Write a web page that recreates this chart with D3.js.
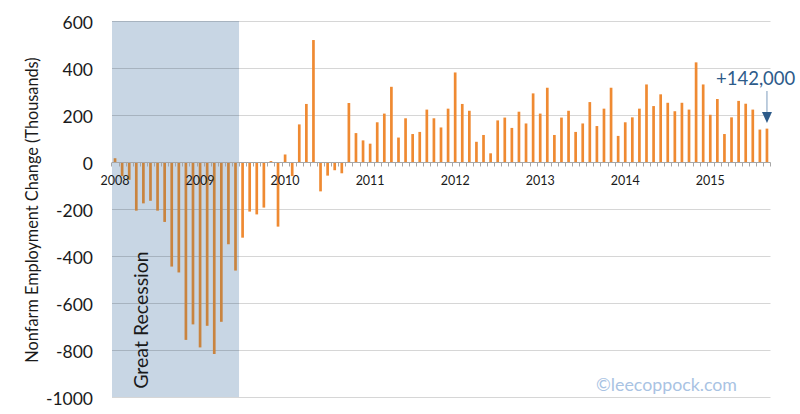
<!DOCTYPE html>
<html><head><meta charset="utf-8">
<script src="https://cdn.jsdelivr.net/npm/d3@7"></script>
<style>
body{margin:0;background:#fff}
svg{display:block}
text{font-family:Lato,"Open Sans",sans-serif}
</style>
</head><body>
<svg id="chart" width="800" height="414"></svg>
<script>
// ---- data (thousands of jobs, monthly change) ----
const yearLabels = ["2008","2009","2010","2011","2012","2013","2014","2015"];
const monthNames = ["Jan","Feb","Mar","Apr","May","Jun","Jul","Aug","Sep","Oct","Nov","Dec"];
const values2008 = [16, -60, -76, -207, -176, -165, -207, -255, -445, -470, -757, -691];
const values2009 = [-789, -697, -817, -680, -350, -462, -322, -211, -223, -194, 4, -275];
const values2010 = [32, -60, 160, 247, 519, -125, -58, -35, -48, 251, 123, 92];
const values2011 = [78, 169, 206, 320, 104, 186, 119, 128, 223, 186, 147, 227];
const values2012 = [381, 247, 218, 86, 115, 37, 177, 189, 145, 214, 164, 292];
const values2013 = [206, 316, 115, 189, 218, 128, 164, 255, 153, 227, 316, 111];
const values2014 = [169, 190, 227, 330, 238, 288, 252, 216, 252, 223, 424, 330];
const values2015 = [201, 268, 119, 190, 260, 248, 223, 138, 142];
const yTicks = [-1000, -800, -600, -400, -200, 0, 200, 400, 600];
const recessionStart = "Jan 2008";
const recessionEnd = "Jun 2009";
const annotationText = "+142,000";
const yTitle = "Nonfarm Employment Change (Thousands)";
const recessionLabel = "Great Recession";
const watermark = "\u00A9leecoppock.com";

const yearValues = [values2008, values2009, values2010, values2011, values2012, values2013, values2014, values2015];
const data = [];
yearValues.forEach((arr, yi) => arr.forEach((v, mi) => {
  data.push({key: monthNames[mi] + " " + yearLabels[yi], month: mi, year: yearLabels[yi], value: v});
}));

// ---- layout ----
const svg = d3.select("#chart");
const plotLeft = 111.5, plotRight = 770.5, plotTop = 21, plotBottom = 397;

const x = d3.scaleBand().domain(data.map(d => d.key)).range([plotLeft, plotRight]).paddingInner(0.62).paddingOuter(0.31);
const y = d3.scaleLinear().domain([-1000, 600]).range([plotBottom, plotTop]);

const keys = data.map(d => d.key);
const rs = keys.indexOf(recessionStart), re = keys.indexOf(recessionEnd);
const step = x.step();
const bandStart = k => x(k) - step * x.paddingInner() / 2;

// recession shading
const shadeX0 = plotLeft + 0.5;
const shadeX1 = bandStart(recessionEnd) + step;
svg.append("rect")
  .attr("x", shadeX0).attr("y", y(600))
  .attr("width", shadeX1 - shadeX0).attr("height", y(-1000) - y(600))
  .attr("fill", "#c8d6e4");

// gridlines
svg.append("g").selectAll("line").data(yTicks.filter(t => t !== 0)).join("line")
  .attr("x1", plotLeft + 0.5).attr("x2", plotRight)
  .attr("y1", d => Math.round(y(d)) + 0.5).attr("y2", d => Math.round(y(d)) + 0.5)
  .attr("stroke", "rgba(0,0,0,0.16)").attr("stroke-width", 1.2);

// bars
svg.append("g").selectAll("rect").data(data).join("rect")
  .attr("x", d => x(d.key))
  .attr("width", x.bandwidth())
  .attr("y", d => y(Math.max(0, d.value)))
  .attr("height", d => Math.abs(y(d.value) - y(0)))
  .attr("fill", (d, i) => (i >= rs && i <= re) ? "#c9843f" : "#ef8a32");

// zero axis with ticks at band boundaries
const y0 = Math.round(y(0)) + 0.5;
const ax = svg.append("g");
ax.append("line").attr("x1", plotLeft + 0.5).attr("x2", plotRight).attr("y1", y0).attr("y2", y0)
  .attr("stroke", "#a6a6a6").attr("stroke-width", 1);
ax.selectAll("line.tick").data(keys.concat(["__end"])).join("line").attr("class", "tick")
  .attr("x1", (k, i) => Math.round(i < keys.length ? bandStart(k) : bandStart(keys[keys.length-1]) + step) + 0.5)
  .attr("x2", (k, i) => Math.round(i < keys.length ? bandStart(k) : bandStart(keys[keys.length-1]) + step) + 0.5)
  .attr("y1", y0).attr("y2", y0 + 4)
  .attr("stroke", "#a6a6a6").attr("stroke-width", 1);

// year labels (centered on January)
ax.selectAll("text.year").data(yearLabels).join("text").attr("class", "year")
  .attr("x", d => x("Jan " + d) + x.bandwidth() / 2)
  .attr("y", y(0) + 23)
  .attr("text-anchor", "middle")
  .attr("font-size", 12.5).attr("fill", "#1a1a1a")
  .text(d => d);

// y axis labels
const yAxis = d3.axisLeft(y).tickValues(yTicks).tickFormat(d => String(d)).tickSize(0).tickPadding(0);
const ya = svg.append("g").attr("transform", `translate(93,0)`).call(yAxis);
ya.select(".domain").remove();
ya.selectAll("text").attr("font-size", 17.5).attr("fill", "#1a1a1a")
  .attr("font-family", "Lato, 'Open Sans', sans-serif").attr("dy", "0.45em");

// y title
svg.append("text")
  .attr("transform", `translate(38,210) rotate(-90)`)
  .attr("text-anchor", "middle")
  .attr("font-size", 16.3).attr("fill", "#1a1a1a")
  .text(yTitle);

// recession label
svg.append("text")
  .attr("transform", `translate(148,320) rotate(-90)`)
  .attr("text-anchor", "middle")
  .attr("font-size", 19.5).attr("fill", "#1a1a1a")
  .text(recessionLabel);

// annotation
const last = data[data.length - 1];
const ax0 = x(last.key) + x.bandwidth() / 2;
svg.append("text")
  .attr("x", 716).attr("y", 85)
  .attr("font-size", 18.5).attr("fill", "#2d5b8a")
  .text(annotationText);
svg.append("line")
  .attr("x1", ax0).attr("x2", ax0).attr("y1", 91).attr("y2", 113)
  .attr("stroke", "#7d9cbd").attr("stroke-width", 1);
svg.append("path")
  .attr("d", `M${ax0-5},112 L${ax0+5},112 L${ax0},123 Z`)
  .attr("fill", "#2d5b8a");

// watermark
svg.append("text")
  .attr("x", 737).attr("y", 391)
  .attr("text-anchor", "end")
  .attr("font-size", 17.8).attr("fill", "#a9c3e3")
  .text(watermark);
</script>
</body></html>
